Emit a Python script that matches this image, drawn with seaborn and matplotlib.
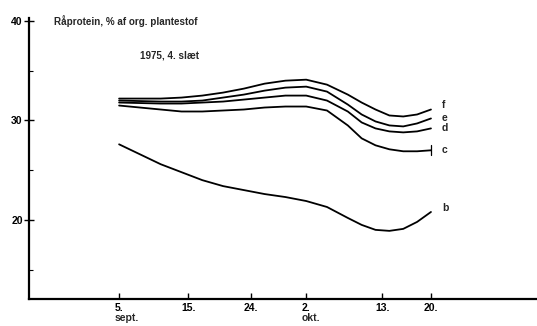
import matplotlib
matplotlib.use("Agg")
import matplotlib.pyplot as plt
import matplotlib.transforms as mtransforms
import pandas as pd
import seaborn as sns

# Day number counted from 1 September (2. okt = day 32)
days = [5, 8, 11, 14, 17, 20, 23, 26, 29, 32, 35, 38, 40, 42, 44, 46, 48, 50]

protein_f = [32.2, 32.2, 32.2, 32.3, 32.5, 32.8, 33.2, 33.7, 34.0, 34.1, 33.6, 32.6, 31.8, 31.1, 30.5, 30.4, 30.6, 31.1]
protein_e = [32.0, 31.95, 31.9, 31.9, 32.0, 32.3, 32.6, 33.0, 33.3, 33.4, 32.9, 31.6, 30.6, 29.9, 29.5, 29.4, 29.7, 30.2]
protein_d = [31.8, 31.75, 31.7, 31.7, 31.8, 31.9, 32.1, 32.3, 32.5, 32.5, 32.0, 30.9, 29.8, 29.2, 28.9, 28.8, 28.9, 29.2]
protein_c = [31.5, 31.3, 31.1, 30.9, 30.9, 31.0, 31.1, 31.3, 31.4, 31.4, 31.0, 29.5, 28.2, 27.5, 27.1, 26.9, 26.9, 27.0]
protein_b = [27.6, 26.6, 25.6, 24.8, 24.0, 23.4, 23.0, 22.6, 22.3, 21.9, 21.3, 20.2, 19.5, 19.0, 18.9, 19.1, 19.8, 20.8]

series_names = ["f", "e", "d", "c", "b"]
series_values = [protein_f, protein_e, protein_d, protein_c, protein_b]

tick_days = [5, 15, 24, 32, 43, 50]
tick_labels = ["5.", "15.", "24.", "2.", "13.", "20."]
month_labels = {5: "sept.", 32: "okt."}

y_major = [20, 30, 40]
y_minor = [15, 25, 35]

title_text = "Råprotein, % af org. plantestof"
subtitle_text = "1975, 4. slæt"

df = pd.concat(
    [pd.DataFrame({"dag": days, "protein": vals, "serie": name})
     for name, vals in zip(series_names, series_values)],
    ignore_index=True,
)

sns.set_theme(style="ticks")
plt.rcParams["font.family"] = ["Liberation Sans", "DejaVu Sans"]
plt.rcParams["font.weight"] = "bold"

fig = plt.figure(figsize=(5.37, 3.26), dpi=100)
ax = fig.add_axes([29 / 537, 1 - 299 / 326, 1 - 29 / 537, (299 - 18) / 326])

sns.lineplot(
    data=df, x="dag", y="protein", hue="serie", units="serie",
    estimator=None, palette=["black"] * len(series_names),
    linewidth=1.3, legend=False, ax=ax, sort=True,
)

ax.set_xlim(-8, 65.3)
ax.set_ylim(12.05, 40.3)
ax.set_xlabel("")
ax.set_ylabel("")

sns.despine(ax=ax)
for side in ("left", "bottom"):
    ax.spines[side].set_color("black")
    ax.spines[side].set_linewidth(1.6)

ax.set_xticks(tick_days)
ax.set_xticklabels(tick_labels, fontsize=7.5, fontweight="bold")
ax.tick_params(axis="x", direction="in", length=4, width=1, pad=3, colors="black")

ax.set_yticks(y_major)
ax.set_yticklabels([str(v) for v in y_major], fontsize=7.5, fontweight="bold")
ax.set_yticks(y_minor, minor=True)
ax.tick_params(axis="y", which="major", direction="inout", length=7, width=1, pad=1, colors="black")
ax.tick_params(axis="y", which="minor", direction="in", length=3, width=0.8, colors="black")

# month names under the first day of each month
trans = mtransforms.blended_transform_factory(ax.transData, ax.transAxes)
for d, name in month_labels.items():
    ax.text(d - 0.6, -0.05, name, transform=trans, ha="left", va="top",
            fontsize=7.5, fontweight="bold")

# curve labels at the right end
for name, vals in zip(series_names, series_values):
    offset = {"f": 0.45, "e": 0.0, "d": 0.0, "c": 0.0, "b": 0.35}[name]
    ax.text(days[-1] + 1.6, vals[-1] + offset, name, ha="left", va="center",
            fontsize=7.5, fontweight="bold")
ax.plot([days[-1], days[-1]], [protein_c[-1] - 0.5, protein_c[-1] + 0.5],
        color="black", linewidth=0.9)

ax.text(0.049, 0.99, title_text, transform=ax.transAxes, ha="left", va="center",
        fontsize=7.1, fontweight="bold")
ax.text(0.218, 0.865, subtitle_text, transform=ax.transAxes, ha="left", va="center",
        fontsize=7.1, fontweight="bold")

ax.set_facecolor("white")
fig.patch.set_facecolor("white")
fig.savefig("out.png", dpi=100)
